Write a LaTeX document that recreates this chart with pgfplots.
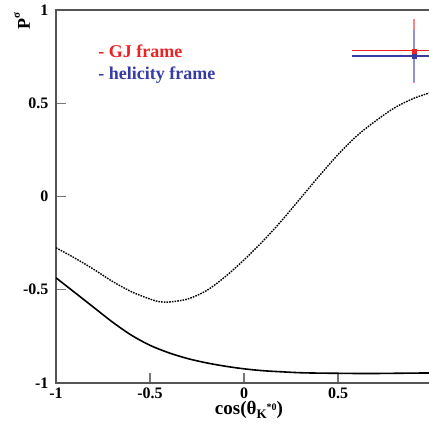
\documentclass[border=0pt]{standalone}
\usepackage{fontspec}
\setmainfont{Liberation Serif}
\usepackage{pgfplots}
\pgfplotsset{compat=1.18}
\definecolor{gjred}{RGB}{235,35,35}
\definecolor{helblue}{RGB}{55,60,165}
\definecolor{axgray}{RGB}{85,85,85}
\begin{document}
\begin{tikzpicture}
\begin{axis}[name=ax, at={(0,0)}, anchor=south west,
  scale only axis, width=376pt, height=373pt,
  xmin=-1, xmax=1, ymin=-1, ymax=1,
  xtick={-1,-0.5,0,0.5,1}, ytick={-1,-0.5,0,0.5,1},
  tick align=inside, xtick pos=left, ytick pos=left,
  major tick length=10pt,
  axis line style={axgray, line width=1.3pt},
  tick style={axgray!80, line width=1.2pt},
  ticklabel style={font=\bfseries\fontsize{16}{16}\selectfont},
  yticklabel style={xshift=-4pt},
  xticklabel style={yshift=-1pt},
  /pgf/number format/assume math mode=true,
]
\addplot[black, line width=1.6pt, smooth] coordinates {
(-1,-0.436) (-0.9,-0.515) (-0.8,-0.594) (-0.7,-0.673) (-0.6,-0.743) (-0.5,-0.798)
(-0.4,-0.838) (-0.3,-0.869) (-0.2,-0.892) (-0.1,-0.91) (0,-0.924) (0.1,-0.934)
(0.2,-0.94) (0.3,-0.945) (0.4,-0.947) (0.5,-0.948) (0.6,-0.949) (0.7,-0.949)
(0.8,-0.948) (0.9,-0.947) (1,-0.946)};
\addplot[black, line width=1.4pt, smooth, dash pattern=on 1.6pt off 1.1pt] coordinates {
(-1,-0.275) (-0.9,-0.33) (-0.8,-0.39) (-0.7,-0.455) (-0.6,-0.51) (-0.5,-0.55)
(-0.45,-0.564) (-0.4,-0.566) (-0.3,-0.55) (-0.2,-0.505) (-0.1,-0.43) (0,-0.34)
(0.1,-0.24) (0.2,-0.13) (0.3,-0.01) (0.4,0.11) (0.5,0.225) (0.6,0.325)
(0.7,0.405) (0.8,0.475) (0.9,0.525) (1,0.56)};
% GJ frame
\addplot[draw=none, gjred!55, mark=none, error bars/.cd, y dir=both, y explicit,
  error bar style={line width=1.3pt}, error mark options={line width=1.3pt, mark size=3pt}]
  coordinates {(0.904,0.781) +- (0,0.157)};
\addplot[gjred, only marks, mark=square*, mark size=2pt, error bars/.cd, x dir=both, x explicit,
  error bar style={line width=1.3pt}, error mark options={line width=1.3pt, mark size=2.5pt}]
  coordinates {(0.904,0.781) +- (0.314,0)};
% helicity frame
\addplot[draw=none, helblue!55, mark=none, error bars/.cd, y dir=both, y explicit,
  error bar style={line width=1.3pt}, error mark options={line width=1.3pt, mark size=3pt}]
  coordinates {(0.904,0.754) +- (0,0.125)};
\addplot[helblue, only marks, mark=square*, mark size=2pt, error bars/.cd, x dir=both, x explicit,
  error bar style={line width=1.3pt}, error mark options={line width=1.3pt, mark size=2.5pt}]
  coordinates {(0.904,0.754) +- (0.314,0)};
\node[anchor=base west, text=gjred, font=\bfseries\fontsize{18}{18}\selectfont] at (axis cs:-0.793,0.745) {- GJ frame};
\node[anchor=base west, text=helblue, font=\bfseries\fontsize{18}{18}\selectfont] at (axis cs:-0.793,0.627) {- helicity frame};
\end{axis}
\node[rotate=90, anchor=base east, font=\bfseries\fontsize{18}{18}\selectfont, inner sep=0pt] at ([xshift=-26pt,yshift=-2pt]ax.north west) {P\raisebox{10pt}{\fontsize{11}{11}\selectfont σ}};
\node[anchor=base, font=\bfseries\fontsize{19}{19}\selectfont, inner sep=0pt] at ([xshift=5pt,yshift=-32pt]ax.south) {cos(θ\raisebox{-4pt}{\fontsize{13}{13}\selectfont K\raisebox{8pt}{\fontsize{10}{10}\selectfont *0}})};
\pgfresetboundingbox
\path[use as bounding box] ([xshift=-56pt,yshift=-44pt]ax.south west) rectangle ([xshift=-3pt,yshift=10pt]ax.north east);
\end{tikzpicture}
\end{document}
